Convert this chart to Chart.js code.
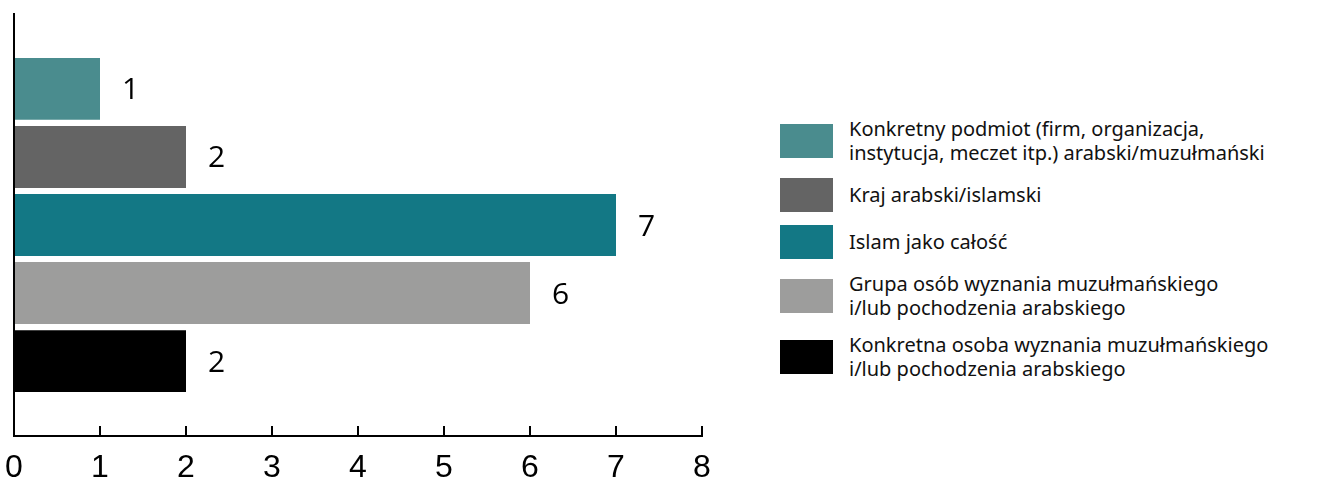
<!DOCTYPE html>
<html>
<head>
<meta charset="utf-8">
<script src="https://cdn.jsdelivr.net/npm/chart.js@4.4.1/dist/chart.umd.min.js"></script>
<style>
    html, body { margin: 0; padding: 0; background: #fff; }
    #wrap { position: relative; width: 1323px; height: 480px; overflow: hidden; }
    #chartBox { position: absolute; left: 0; top: 0; width: 720px; height: 480px; }
    #legend {
        position: absolute; left: 780px; top: 117px;
        display: flex; flex-direction: column; gap: 13px;
        font-family: "Noto Sans", sans-serif; font-size: 20px; line-height: 24px; color: #111;
    }
    .item { display: flex; align-items: center; min-height: 34px; }
    .box { width: 53px; height: 34px; flex: none; margin-right: 16px; }
</style>
</head>
<body>
<div id="wrap">
    <div id="chartBox"><canvas id="chart"></canvas></div>
    <div id="legend"></div>
</div>
<script>
// ==== DATA ====
const categories = [
    ["Konkretny podmiot (firm, organizacja,", "instytucja, meczet itp.) arabski/muzułmański"],
    ["Kraj arabski/islamski"],
    ["Islam jako całość"],
    ["Grupa osób wyznania muzułmańskiego", "i/lub pochodzenia arabskiego"],
    ["Konkretna osoba wyznania muzułmańskiego", "i/lub pochodzenia arabskiego"]
];
const values = [1, 2, 7, 6, 2];
const barColors = ["#4a8c8e", "#646464", "#137885", "#9d9d9c", "#000000"];
const xTicks = [0, 1, 2, 3, 4, 5, 6, 7, 8];

// ==== VALUE LABELS NEXT TO BARS ====
const valueLabels = {
    id: "valueLabels",
    afterDatasetsDraw(chart) {
        const ctx = chart.ctx;
        const meta = chart.getDatasetMeta(0);
        ctx.save();
        ctx.font = "30px 'Open Sans', sans-serif";
        ctx.fillStyle = "#000";
        ctx.textAlign = "left";
        ctx.textBaseline = "middle";
        meta.data.forEach((bar, i) => {
            ctx.fillText(String(values[i]), bar.x + 22, bar.y + 2);
        });
        ctx.restore();
    }
};

new Chart(document.getElementById("chart"), {
    type: "bar",
    data: {
        datasets: [{
            data: values.map((v, i) => ({ x: v, y: i })),
            backgroundColor: barColors,
            barPercentage: 0.91,
            categoryPercentage: 1
        }]
    },
    options: {
        indexAxis: "y",
        responsive: true,
        maintainAspectRatio: false,
        animation: false,
        layout: { padding: { left: 14, top: 14, right: 18, bottom: 0 } },
        plugins: { legend: { display: false }, tooltip: { enabled: false } },
        scales: {
            x: {
                type: "linear",
                min: xTicks[0],
                max: xTicks[xTicks.length - 1],
                afterBuildTicks: s => { s.ticks = xTicks.map(v => ({ value: v })); },
                afterFit: s => { s.height = 44; s.paddingLeft = 0; s.paddingRight = 0; },
                border: { color: "#000", width: 2 },
                grid: { drawOnChartArea: false, drawTicks: true, tickLength: -10, color: "#000", lineWidth: 2 },
                ticks: {
                    padding: 23,
                    color: "#000",
                    font: { family: "'Liberation Sans Narrow', sans-serif", size: 32 }
                }
            },
            y: {
                type: "linear",
                offset: false,
                min: -1.1,
                max: 5.1,
                reverse: true,
                afterFit: s => { s.width = 0; },
                border: { color: "#000", width: 2 },
                grid: { display: false, drawTicks: false },
                ticks: { display: false }
            }
        }
    },
    plugins: [valueLabels]
});

// ==== HTML LEGEND ====
const legend = document.getElementById("legend");
categories.forEach((lines, i) => {
    const item = document.createElement("div");
    item.className = "item";
    const box = document.createElement("div");
    box.className = "box";
    box.style.background = barColors[i];
    const text = document.createElement("div");
    text.innerHTML = lines.join("<br>");
    item.appendChild(box);
    item.appendChild(text);
    legend.appendChild(item);
});
</script>
</body>
</html>
